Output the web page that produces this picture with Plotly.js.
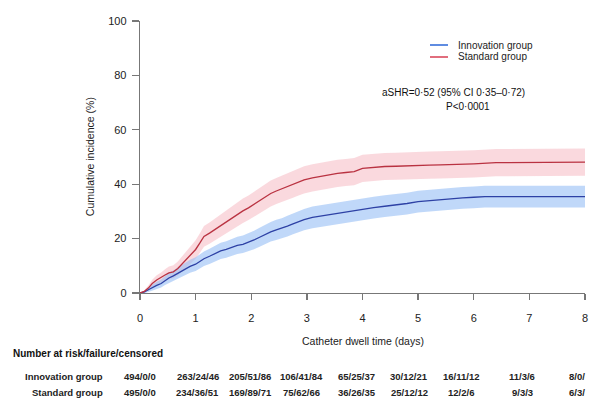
<!DOCTYPE html>
<html>
<head>
<meta charset="utf-8">
<script src="https://cdn.plot.ly/plotly-3.0.1.min.js"></script>
<style>html,body{margin:0;padding:0;background:#fff;}#chart{width:591px;height:398px;}</style>
</head>
<body>
<div id="chart"></div>
<script>
// ---- Data ----
var timeInnov = [0,0.08,0.15,0.22,0.3,0.38,0.45,0.52,0.6,0.68,0.75,0.82,0.9,1.0,1.08,1.15,1.25,1.35,1.45,1.55,1.65,1.75,1.85,1.95,2.05,2.15,2.25,2.35,2.45,2.55,2.65,2.75,2.85,2.95,3.1,3.25,3.4,3.55,3.7,3.85,4.0,4.2,4.4,4.6,4.8,5.0,5.2,5.4,5.6,5.8,6.0,6.2,8.0];
var incInnov = [0,0.4,1.2,2.0,2.8,3.5,4.6,5.5,6.3,7.2,8.0,9.0,9.8,10.6,11.8,12.6,13.5,14.6,15.5,16.0,16.8,17.5,17.9,18.6,19.5,20.5,21.6,22.5,23.2,23.8,24.6,25.4,26.2,27.0,27.8,28.3,28.9,29.5,29.9,30.5,30.9,31.4,31.9,32.3,32.9,33.6,34.0,34.4,34.7,35.0,35.2,35.4,35.4];
var loInnov = [0,0,0.4,0.9,1.5,2.0,2.9,3.6,4.3,5.1,5.8,6.7,7.4,8.1,9.2,9.9,10.7,11.7,12.5,13.0,13.7,14.3,14.7,15.3,16.1,17.0,18.1,18.9,19.5,20.1,20.8,21.6,22.3,23.1,23.8,24.3,24.9,25.5,25.9,26.5,26.9,27.4,27.9,28.3,28.9,29.6,30.0,30.4,30.7,31.0,31.2,31.4,31.4];
var upInnov = [0,0.8,2.0,3.1,4.1,5.0,6.3,7.4,8.3,9.3,10.2,11.3,12.2,13.1,14.4,15.3,16.3,17.5,18.5,19.0,19.9,20.7,21.1,21.9,22.9,24.0,25.1,26.1,26.9,27.5,28.4,29.2,30.1,30.9,31.8,32.3,32.9,33.5,33.9,34.5,34.9,35.4,35.9,36.3,36.9,37.6,38.0,38.4,38.7,39.0,39.2,39.4,39.4];

var timeStd = [0,0.08,0.15,0.22,0.3,0.38,0.45,0.52,0.6,0.68,0.75,0.82,0.9,1.0,1.08,1.15,1.25,1.35,1.45,1.55,1.65,1.75,1.85,1.95,2.05,2.15,2.25,2.35,2.45,2.55,2.65,2.75,2.85,2.95,3.1,3.25,3.4,3.55,3.7,3.85,4.0,4.2,4.4,4.6,4.8,5.0,5.2,5.4,5.6,5.8,6.0,6.4,7.3,8.0];
var incStd = [0,0.6,1.8,3.5,4.8,5.6,6.6,7.4,7.8,9.0,10.5,12.0,13.6,16.0,18.5,20.8,22.0,23.4,24.8,26.2,27.6,28.9,30.2,31.3,32.6,34.0,35.4,36.6,37.5,38.3,39.2,40.0,40.8,41.6,42.3,42.9,43.5,44.0,44.3,44.6,45.8,46.2,46.5,46.6,46.8,46.9,47.0,47.1,47.2,47.3,47.5,47.9,48.1,48.1];
var loStd = [0,0.1,0.8,2.1,3.1,3.7,4.5,5.1,5.4,6.4,7.7,9.0,10.4,12.6,14.9,17.0,18.1,19.4,20.7,22.0,23.3,24.5,25.7,26.8,28.0,29.3,30.7,31.8,32.7,33.4,34.3,35.0,35.8,36.6,37.3,37.9,38.5,39.0,39.3,39.6,40.8,41.2,41.5,41.6,41.8,41.9,42.0,42.1,42.2,42.3,42.5,42.9,43.1,43.1];
var upStd = [0,1.1,2.8,4.9,6.5,7.5,8.7,9.7,10.2,11.6,13.3,15.0,16.8,19.4,22.1,24.6,25.9,27.4,28.9,30.4,31.9,33.3,34.7,35.8,37.2,38.7,40.1,41.4,42.3,43.2,44.1,45.0,45.8,46.6,47.3,47.9,48.5,49.0,49.3,49.6,50.8,51.2,51.5,51.6,51.8,51.9,52.0,52.1,52.2,52.3,52.5,52.9,53.1,53.1];

var days = [0,1,2,3,4,5,6,7,8];
var riskInnov = ["494/0/0","263/24/46","205/51/86","106/41/84","65/25/37","30/12/21","16/11/12","11/3/6","8/0/"];
var riskStd = ["495/0/0","234/36/51","169/89/71","75/62/66","36/26/35","25/12/12","12/2/6","9/3/3","6/3/"];
var groupNames = ["Innovation group","Standard group"];
var statText1 = "aSHR=0·52 (95% CI 0·35–0·72)";
var statText2 = "P<0·0001";

// ---- Styling ----
var FONT = "Liberation Sans, Arial, sans-serif";
var blueLine = "rgb(45,65,165)", blueFill = "rgba(150,190,245,0.6)";
var redLine = "rgb(185,50,65)", redFill = "rgba(245,185,195,0.55)";
var blueKey = "rgb(95,140,225)", redKey = "rgb(225,110,125)";
// pixel offsets of the risk-table columns relative to each day tick
var colShift = [0,2,-1,-5,-6,-9,-13,-7,-18];

function band(t, lo, up, fill) {
  return [
    {x:t, y:lo, type:"scatter", mode:"lines", line:{shape:"linear", width:0, color:fill}, showlegend:false, hoverinfo:"skip"},
    {x:t, y:up, type:"scatter", mode:"lines", line:{shape:"linear", width:0, color:fill}, fill:"tonexty", fillcolor:fill, showlegend:false, hoverinfo:"skip"}
  ];
}

var traces = [].concat(
  band(timeStd, loStd, upStd, redFill),
  band(timeInnov, loInnov, upInnov, blueFill),
  [
    {x:timeInnov, y:incInnov, type:"scatter", mode:"lines", name:groupNames[0], showlegend:false, line:{shape:"linear", width:1.3, color:blueLine}},
    {x:timeStd, y:incStd, type:"scatter", mode:"lines", name:groupNames[1], showlegend:false, line:{shape:"linear", width:1.3, color:redLine}}
  ]
);

var plotW = 445, plotH = 272; // for converting text rows to paper coords
var ann = [];
ann.push({xref:"paper", yref:"paper", x:-0.112, y:0.5, xanchor:"center", yanchor:"middle", text:"Cumulative incidence (%)", textangle:-90, showarrow:false, font:{family:FONT, size:10.5, color:"#222"}});
ann.push({xref:"paper", yref:"paper", x:0.5, y:-48/plotH, yanchor:"middle", text:"Catheter dwell time (days)", showarrow:false, font:{family:FONT, size:10.5, color:"#222"}});
ann.push({xref:"x", yref:"y", x:5.63, y:73.6, text:statText1, showarrow:false, xanchor:"center", yanchor:"middle", font:{family:FONT, size:10, color:"#111"}});
ann.push({xref:"x", yref:"y", x:5.9, y:68.5, text:statText2, showarrow:false, xanchor:"center", yanchor:"middle", font:{family:FONT, size:10, color:"#111"}});
// manual legend
var keyY = [(293-45)/plotH, (293-57)/plotH];
var keyCol = [blueKey, redKey];
var shapes = [];
for (var g = 0; g < 2; g++) {
  shapes.push({type:"line", xref:"paper", yref:"paper", x0:(430-140)/plotW, x1:(448-140)/plotW, y0:keyY[g], y1:keyY[g], line:{color:keyCol[g], width:2}});
  ann.push({xref:"paper", yref:"paper", x:(456-140)/plotW, y:keyY[g], xanchor:"left", yanchor:"middle", text:groupNames[g], showarrow:false, font:{family:FONT, size:10, color:"#222"}});
}
// risk table
ann.push({xref:"paper", yref:"paper", x:-129/plotW, y:-60/plotH, xanchor:"left", yanchor:"middle", text:"<b>Number at risk/failure/censored</b>", showarrow:false, font:{family:FONT, size:10, color:"#111"}});
ann.push({xref:"paper", yref:"paper", x:-35/plotW, y:-83/plotH, xanchor:"right", yanchor:"middle", text:"<b>"+groupNames[0]+"</b>", showarrow:false, font:{family:FONT, size:9.5, color:"#222"}});
ann.push({xref:"paper", yref:"paper", x:-35/plotW, y:-99/plotH, xanchor:"right", yanchor:"middle", text:"<b>"+groupNames[1]+"</b>", showarrow:false, font:{family:FONT, size:9.5, color:"#222"}});
for (var i = 0; i < days.length; i++) {
  var last = (i === days.length - 1);
  ann.push({xref:"x", yref:"paper", x:days[i], xshift:colShift[i], y:-83/plotH, xanchor:last?"left":"center", yanchor:"middle", text:"<b>"+riskInnov[i]+"</b>", showarrow:false, font:{family:FONT, size:9.5, color:"#222"}});
  ann.push({xref:"x", yref:"paper", x:days[i], xshift:colShift[i], y:-99/plotH, xanchor:last?"left":"center", yanchor:"middle", text:"<b>"+riskStd[i]+"</b>", showarrow:false, font:{family:FONT, size:9.5, color:"#222"}});
}

var layout = {
  width:591, height:398,
  margin:{l:140, r:6, t:21, b:105},
  paper_bgcolor:"#fff", plot_bgcolor:"#fff",
  font:{family:FONT, size:11, color:"#222"},
  showlegend:false,
  xaxis:{range:[0,8], tickvals:days, ticks:"outside", ticklen:6, tickcolor:"#777", tickwidth:1.3, showline:true, linecolor:"#777", linewidth:1.3, showgrid:false, zeroline:false, ticklabelstandoff:8, tickfont:{family:FONT, size:11, color:"#222"}, fixedrange:true},
  yaxis:{range:[0,100], tickvals:[0,20,40,60,80,100], ticks:"outside", ticklen:7, tickcolor:"#777", tickwidth:1.3, showline:true, linecolor:"#777", linewidth:1.3, showgrid:false, zeroline:false, ticklabelstandoff:3, tickfont:{family:FONT, size:11, color:"#222"}, fixedrange:true},
  shapes:shapes,
  annotations:ann
};

Plotly.newPlot("chart", traces, layout, {staticPlot:true, displayModeBar:false});
</script>
</body>
</html>
